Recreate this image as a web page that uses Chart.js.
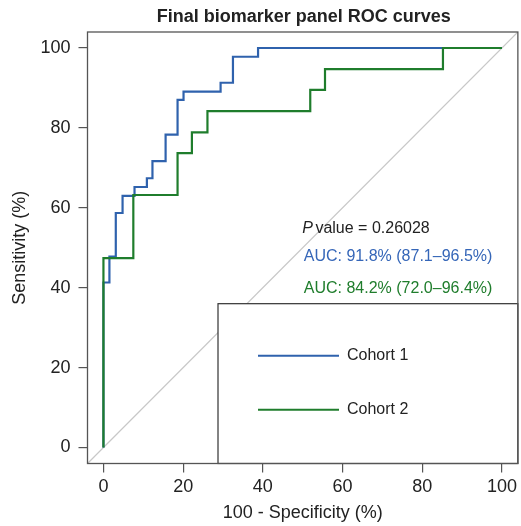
<!DOCTYPE html>
<html>
<head>
<meta charset="utf-8">
<script src="https://cdn.jsdelivr.net/npm/chart.js@4.4.1/dist/chart.umd.min.js"></script>
<style>
  body { margin: 0; background: #fff; }
  #wrap { width: 521px; height: 526px; }
</style>
</head>
<body>
<div id="wrap"><canvas id="myChart" width="521" height="526"></canvas></div>
<script>
// ROC points (100 - specificity, sensitivity), in %
const cohort1Fpr = [0, 0, 1.5, 3.1, 4.8, 7.8, 10.9, 12.3, 15.6, 18.6, 20.1, 29.4, 32.5, 38.8, 100]
const cohort1Tpr = [0, 41.3, 47.8, 58.7, 63.0, 65.2, 67.4, 71.7, 78.3, 87.0, 89.1, 91.3, 97.8, 100, 100]
const cohort2Fpr = [0, 0, 7.5, 18.6, 22.2, 26.1, 51.9, 55.6, 85.2, 100]
const cohort2Tpr = [0, 47.4, 63.2, 73.7, 78.9, 84.2, 89.5, 94.7, 100, 100]
const chanceX = [-4, 104]
const chanceY = [-4, 104]

const xTicks = [0, 20, 40, 60, 80, 100]
const yTicks = [0, 20, 40, 60, 80, 100]
const seriesNames = ['Cohort 1', 'Cohort 2']
const aucLabels = ['AUC: 91.8% (87.1\u201396.5%)', 'AUC: 84.2% (72.0\u201396.4%)']
const pValueText = ' value = 0.26028'
const title = 'Final biomarker panel ROC curves'

const BLUE = '#2f62ad'
const GREEN = '#1f7d2c'
const FONT = "'Liberation Sans', Arial, Helvetica, sans-serif"

const toPoints = (xs, ys) => xs.map((x, i) => ({ x: x, y: ys[i] }))

// frame, title, annotations and the boxed legend
const extras = {
  id: 'extras',
  afterDatasetsDraw(chart) {
    const { ctx, chartArea: a, scales } = chart
    const sx = scales.x, sy = scales.y
    ctx.save()

    // legend box (white, covers the diagonal)
    const bx = sx.getPixelForValue(28.75)
    const by = sy.getPixelForValue(36)
    ctx.fillStyle = '#fff'
    ctx.fillRect(bx, by, a.right - bx, a.bottom - by)
    ctx.strokeStyle = '#333'
    ctx.lineWidth = 1.2
    ctx.strokeRect(bx, by, a.right - bx, a.bottom - by)

    const colors = [BLUE, GREEN]
    ctx.font = '16px ' + FONT
    ctx.textBaseline = 'middle'
    seriesNames.forEach((name, i) => {
      const ly = by + 52 + i * 54
      ctx.strokeStyle = colors[i]
      ctx.lineWidth = 2
      ctx.beginPath()
      ctx.moveTo(bx + 40, ly)
      ctx.lineTo(bx + 121, ly)
      ctx.stroke()
      ctx.fillStyle = '#222'
      ctx.fillText(name, bx + 129, ly)
    })

    // p value and AUC text
    const tx = sx.getPixelForValue(49.9)
    ctx.fillStyle = '#222'
    ctx.font = 'italic 16px ' + FONT
    ctx.fillText('P', tx, sy.getPixelForValue(54.7))
    const pw = ctx.measureText('P').width
    ctx.font = '16px ' + FONT
    ctx.fillText(pValueText, tx + pw - 2, sy.getPixelForValue(54.7))
    ctx.fillStyle = '#3566b8'
    ctx.fillText(aucLabels[0], tx + 1.5, sy.getPixelForValue(47.9))
    ctx.fillStyle = GREEN
    ctx.fillText(aucLabels[1], tx + 1.5, sy.getPixelForValue(39.7))

    // plot frame
    ctx.strokeStyle = '#555'
    ctx.lineWidth = 1.3
    ctx.strokeRect(a.left, a.top, a.right - a.left, a.bottom - a.top)

    // title
    ctx.fillStyle = '#222'
    ctx.font = 'bold 18px ' + FONT
    ctx.textAlign = 'center'
    ctx.fillText(title, (a.left + a.right) / 2 + 1, 17)
    ctx.restore()
  }
}

const axisCommon = (ticks, label, isX) => ({
  type: 'linear',
  min: -4,
  max: 104,
  afterBuildTicks: s => { s.ticks = ticks.map(v => ({ value: v })) },
  afterFit: s => { if (isX) s.height = 62.5; else s.width = 87.5 },
  border: { display: false },
  grid: { drawOnChartArea: false, drawTicks: true, tickLength: 9, color: '#555', lineWidth: 1.2 },
  ticks: {
    autoSkip: false, maxRotation: 0, padding: isX ? 4 : 8,
    color: '#222', font: { family: FONT, size: 18 }
  },
  title: {
    display: true, text: label, color: '#222',
    font: { family: FONT, size: 18 },
    padding: isX ? { top: 0, bottom: 2 } : { top: 9, bottom: 0 }
  }
})

new Chart(document.getElementById('myChart'), {
  type: 'line',
  data: {
    datasets: [
      {
        label: seriesNames[1],
        data: toPoints(cohort2Fpr, cohort2Tpr),
        borderColor: GREEN, borderWidth: 2.2, stepped: 'before',
        pointRadius: 0, fill: false, order: 0
      },
      {
        label: seriesNames[0],
        data: toPoints(cohort1Fpr, cohort1Tpr),
        borderColor: BLUE, borderWidth: 2.2, stepped: 'before',
        pointRadius: 0, fill: false, order: 1
      },
      {
        label: 'chance',
        data: toPoints(chanceX, chanceY),
        borderColor: '#c8c8c8', borderWidth: 1.2,
        pointRadius: 0, fill: false, order: 2
      }
    ]
  },
  options: {
    responsive: false,
    animation: false,
    devicePixelRatio: 1,
    layout: { padding: { top: 32, right: 1.5, left: 0, bottom: 0 } },
    plugins: { legend: { display: false }, tooltip: { enabled: false }, title: { display: false } },
    scales: {
      x: axisCommon(xTicks, '100 - Specificity (%)', true),
      y: axisCommon(yTicks, 'Sensitivity (%)', false)
    }
  },
  plugins: [extras]
})
</script>
</body>
</html>
